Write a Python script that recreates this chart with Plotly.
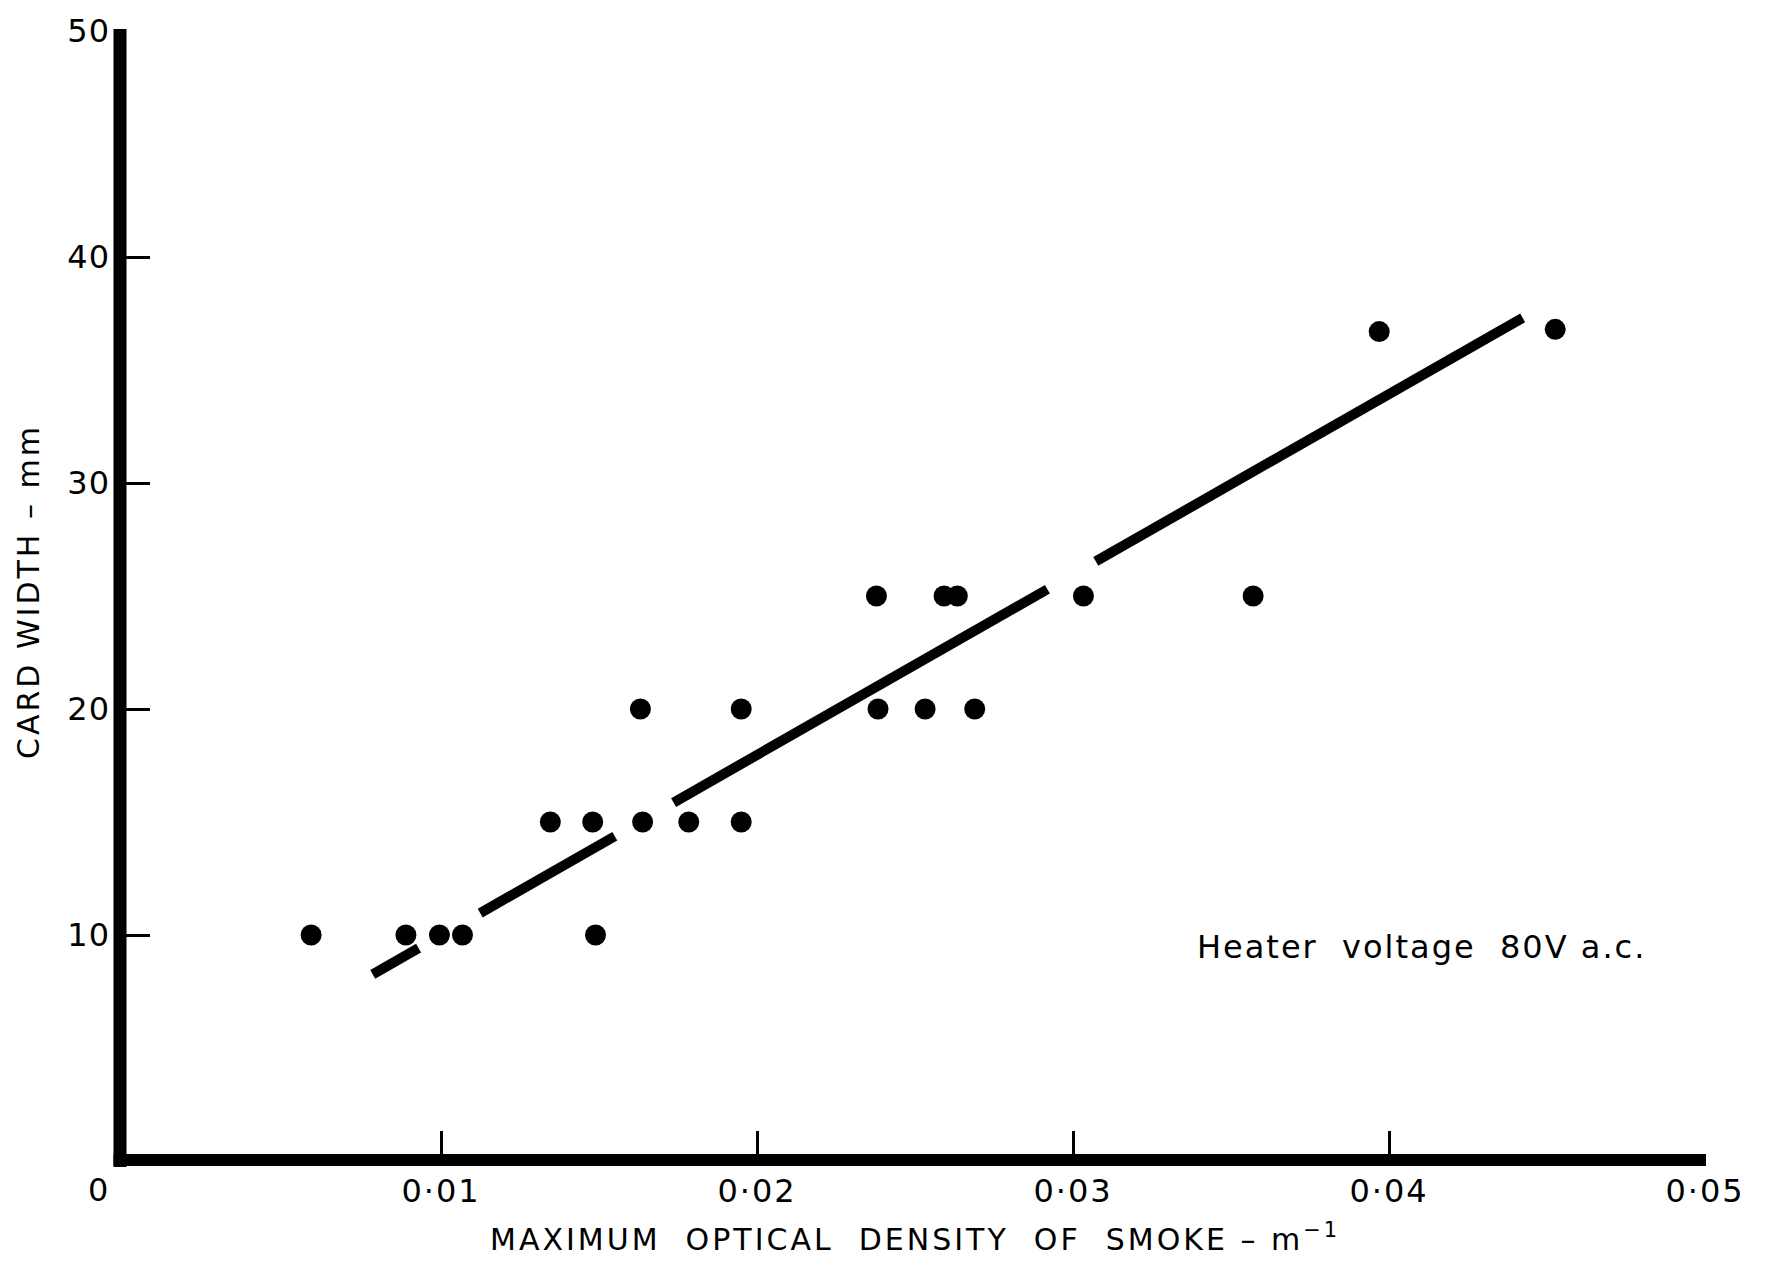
import plotly.graph_objects as go

# ---- data ----
x_density = [0.00589, 0.00889, 0.00995, 0.01068, 0.01489,
             0.01346, 0.01480, 0.01638, 0.01784, 0.01950,
             0.01631, 0.01950, 0.02383, 0.02532, 0.02689,
             0.02378, 0.02592, 0.02634, 0.03033, 0.03570,
             0.03969, 0.04526]
y_width = [10, 10, 10, 10, 10,
           15, 15, 15, 15, 15,
           20, 20, 20, 20, 20,
           25, 25, 25, 25, 25,
           36.7, 36.8]

# fitted line, drawn in broken segments (None = gap)
line_x = [0.00784, 0.00929, None, 0.01124, 0.01550, None, 0.01736, 0.02919, None, 0.03072, 0.04423]
line_y = [8.26, 9.42, None, 10.97, 14.37, None, 15.86, 25.30, None, 26.53, 37.31]

x_tickvals = [0.01, 0.02, 0.03, 0.04, 0.05]
x_ticktext = ["0·01", "0·02", "0·03", "0·04", "0·05"]
y_tickvals = [10, 20, 30, 40, 50]
y_ticktext = ["10", "20", "30", "40", "50"]

FONT = "DejaVu Sans"
W, H = 1770, 1266
L, R, T, B = 125, 65, 25, 105
PW, PH = W - L - R, H - T - B


def px(xp):
    return (xp - L) / PW


def py(yp):
    return (H - B - yp) / PH


def spaced(s, sp):
    return f'<span style="letter-spacing:{sp}px">{s}</span>'


fig = go.Figure()
fig.add_trace(go.Scatter(x=line_x, y=line_y, mode="lines",
                         line=dict(color="black", width=10),
                         connectgaps=False, hoverinfo="skip", showlegend=False))
fig.add_trace(go.Scatter(x=x_density, y=y_width, mode="markers",
                         marker=dict(color="black", size=21, line=dict(width=0)),
                         showlegend=False))

fig.update_layout(
    width=W, height=H, autosize=False,
    margin=dict(l=L, r=R, t=T, b=B, pad=0),
    paper_bgcolor="white", plot_bgcolor="white",
    font=dict(family=FONT, color="black", size=30),
    xaxis=dict(range=[0, 0.05], showgrid=False, zeroline=False, showline=False,
               tickmode="array", tickvals=x_tickvals,
               ticktext=[spaced(t, 2) for t in x_ticktext],
               ticks="inside", ticklen=30, tickwidth=3, tickcolor="black",
               tickfont=dict(family=FONT, size=32, color="black"),
               ticklabelstandoff=8),
    yaxis=dict(range=[0, 50], showgrid=False, zeroline=False, showline=False,
               tickmode="array", tickvals=y_tickvals,
               ticktext=[spaced(t, 1) for t in y_ticktext],
               ticks="inside", ticklen=25, tickwidth=3, tickcolor="black",
               tickfont=dict(family=FONT, size=32, color="black"),
               ticklabelstandoff=14),
    shapes=[
        dict(type="line", xref="paper", yref="paper",
             x0=px(120), x1=px(120), y0=py(1167), y1=py(23),
             line=dict(color="black", width=13), layer="above"),
        dict(type="line", xref="paper", yref="paper",
             x0=px(113.5), x1=px(1706), y0=py(1160), y1=py(1160),
             line=dict(color="black", width=12), layer="above"),
    ],
    annotations=[
        dict(text="0", xref="paper", yref="paper", x=px(98), y=py(1190),
             xanchor="center", yanchor="middle", showarrow=False,
             font=dict(family=FONT, size=32, color="black")),
        dict(text=spaced("MAXIMUM&nbsp;&nbsp;OPTICAL&nbsp;&nbsp;DENSITY&nbsp;&nbsp;OF&nbsp;&nbsp;SMOKE&nbsp;– m<sup>−1</sup>", 3),
             xref="paper", yref="paper", x=px(488), y=py(1238),
             xanchor="left", yanchor="middle", showarrow=False,
             font=dict(family=FONT, size=30, color="black")),
        dict(text=spaced("CARD WIDTH – mm", 3),
             xref="paper", yref="paper", x=px(28), y=py(589),
             xanchor="center", yanchor="middle", textangle=-90, showarrow=False,
             font=dict(family=FONT, size=30, color="black")),
        dict(text=spaced("Heater&nbsp;&nbsp;voltage&nbsp;&nbsp;80V a.c.", 2),
             xref="paper", yref="paper", x=px(1195), y=py(946),
             xanchor="left", yanchor="middle", showarrow=False,
             font=dict(family=FONT, size=32, color="black")),
    ],
)

fig.write_html("out.html")
